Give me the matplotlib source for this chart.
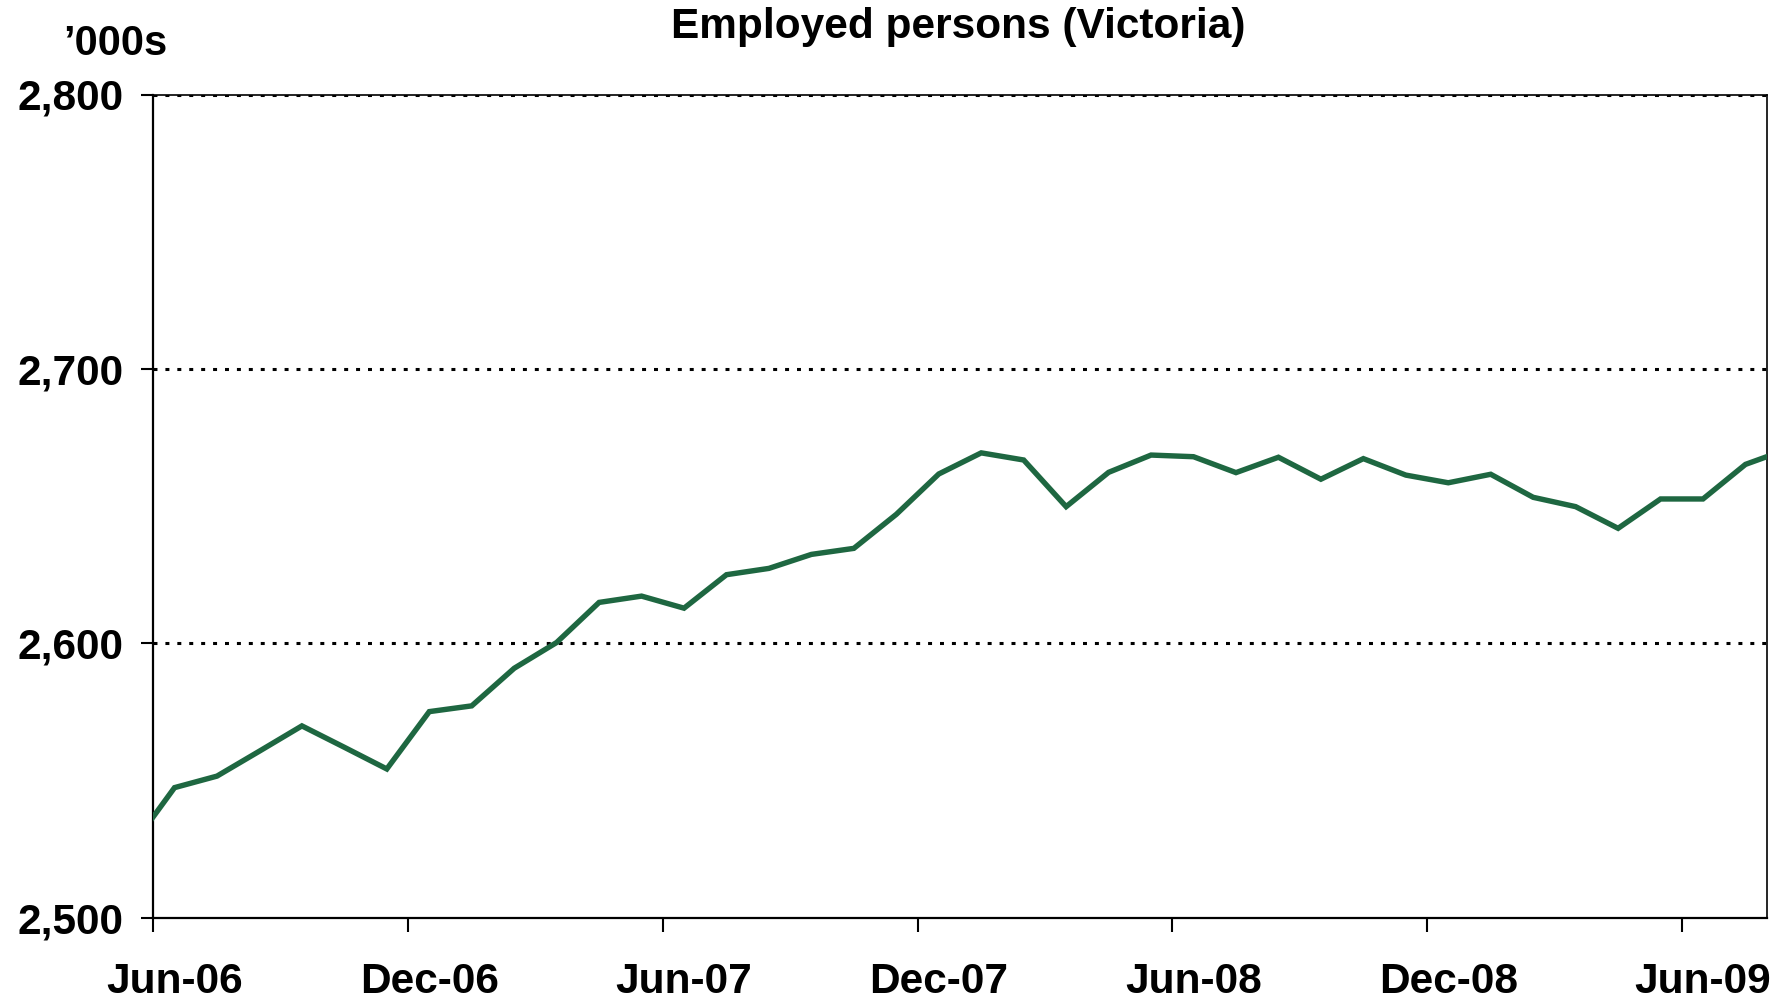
import matplotlib
matplotlib.use("Agg")
import matplotlib.pyplot as plt
from matplotlib.ticker import FixedLocator, NullFormatter, FixedFormatter

plt.rcParams['font.family'] = ['Liberation Sans', 'DejaVu Sans']
plt.rcParams['font.weight'] = 'bold'

# Monthly data, May-06 .. Aug-09 (first and last fall just outside the plotted range)
months = ["May-06", "Jun-06", "Jul-06", "Aug-06", "Sep-06", "Oct-06", "Nov-06", "Dec-06",
          "Jan-07", "Feb-07", "Mar-07", "Apr-07", "May-07", "Jun-07", "Jul-07", "Aug-07",
          "Sep-07", "Oct-07", "Nov-07", "Dec-07", "Jan-08", "Feb-08", "Mar-08", "Apr-08",
          "May-08", "Jun-08", "Jul-08", "Aug-08", "Sep-08", "Oct-08", "Nov-08", "Dec-08",
          "Jan-09", "Feb-09", "Mar-09", "Apr-09", "May-09", "Jun-09", "Jul-09", "Aug-09"]
employed = [2526.2, 2547.4, 2551.6, 2560.7, 2569.9, 2562.1, 2554.2, 2575.1,
            2577.2, 2590.9, 2600.3, 2614.9, 2617.2, 2612.8, 2625.0, 2627.3,
            2632.4, 2634.6, 2647.0, 2661.7, 2669.4, 2666.8, 2649.8, 2662.3,
            2668.6, 2668.0, 2662.2, 2667.8, 2659.8, 2667.3, 2661.3, 2658.5,
            2661.6, 2653.2, 2649.8, 2641.9, 2652.6, 2652.6, 2665.2, 2670.8]
tick_labels = ["Jun-06", "Dec-06", "Jun-07", "Dec-07", "Jun-08", "Dec-08", "Jun-09"]
y_ticks = [2500, 2600, 2700, 2800]

first_shown = months.index("Jun-06")
n_shown = months.index("Aug-09") - first_shown  # Jun-06 .. Jul-09
x = [i - first_shown + 0.5 for i in range(len(months))]

fig = plt.figure(figsize=(17.85, 10), dpi=100)
ax = fig.add_axes([153.3 / 1785, 1 - 917.7 / 1000, (1766.7 - 153.3) / 1785, (917.7 - 94.5) / 1000])

green = '#1E6741'
ax.plot(x, employed, color=green, lw=3.9, solid_joinstyle='miter', zorder=3)

ax.set_xlim(0, n_shown)
ax.set_ylim(2500, 2800)

# grid lines (dotted)
for v in y_ticks[1:]:
    ax.axhline(v, color='black', lw=2.2, linestyle=(0, (1.3, 2.6)), dash_capstyle='butt', zorder=2)

# y ticks
ax.set_yticks(y_ticks)
ax.set_yticklabels([f"{v:,}" for v in y_ticks])
ax.tick_params(axis='y', direction='out', length=8.5, width=1.5, pad=13, labelsize=30.5, colors='black')

# x ticks: boundaries as major ticks (no labels); labels on minor ticks at month centres
tick_idx = [months.index(t) - first_shown for t in tick_labels]
ax.xaxis.set_major_locator(FixedLocator(tick_idx))
ax.xaxis.set_major_formatter(NullFormatter())
ax.xaxis.set_minor_locator(FixedLocator([i + 0.5 for i in tick_idx]))
ax.xaxis.set_minor_formatter(FixedFormatter(tick_labels))
ax.tick_params(axis='x', which='major', direction='out', length=10, width=1.5)
ax.tick_params(axis='x', which='minor', length=0, pad=32, labelsize=30.5)

for s in ['left', 'bottom']:
    ax.spines[s].set_linewidth(1.6)
for s in ['top', 'right']:
    ax.spines[s].set_linewidth(1.2)
for s in ax.spines.values():
    s.set_color('black')

fig.text(958 / 1785, 1 - 38 / 1000, "Employed persons (Victoria)", ha='center', va='baseline',
         fontsize=30.5, fontweight='bold')
fig.text(63 / 1785, 1 - 55 / 1000, "\u2019000s", ha='left', va='baseline',
         fontsize=30, fontweight='bold')

fig.savefig("out.png", dpi=100)
